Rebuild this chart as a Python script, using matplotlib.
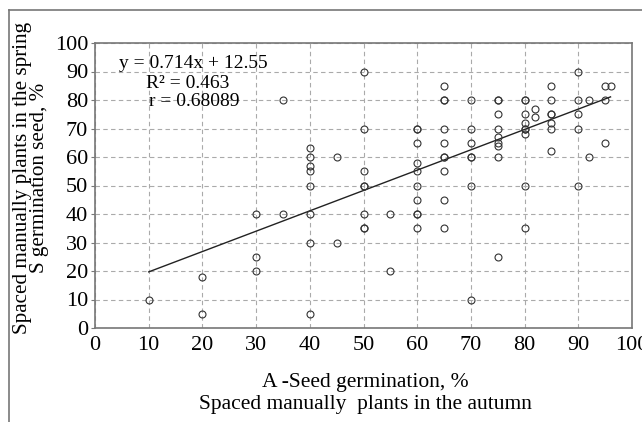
import numpy as np
import matplotlib
matplotlib.use('Agg')
import matplotlib.pyplot as plt
from matplotlib.lines import Line2D

plt.rcParams['font.family'] = ['Liberation Serif', 'DejaVu Serif']

# autumn germination (x) -> list of spring germination values (y)
autumn = [10, 20, 30, 35, 40, 45, 50, 55, 60, 65, 70, 75, 80, 82, 85, 90, 92, 95, 96]
spring = [
    [10],
    [18, 5],
    [40, 25, 20],
    [80, 40],
    [63, 60, 57, 55, 50, 40, 30, 5],
    [60, 30],
    [90, 70, 55, 50, 50, 40, 35, 35],
    [40, 20],
    [70, 70, 65, 58, 55, 50, 45, 40, 40, 35],
    [85, 80, 80, 70, 65, 60, 60, 55, 45, 35],
    [80, 70, 65, 60, 60, 50, 10],
    [80, 80, 75, 70, 67, 65, 64, 60, 25],
    [80, 80, 75, 72, 70, 70, 68, 50, 35],
    [77, 74],
    [85, 80, 75, 75, 72, 70, 62],
    [90, 80, 75, 70, 50],
    [80, 60],
    [85, 80, 65],
    [85],
]
slope = 0.714
intercept = 12.55
eq_lines = ['y = 0.714x + 12.55', 'R² = 0.463', 'r = 0.68089']

xs = []
ys = []
for a, vals in zip(autumn, spring):
    for v in vals:
        xs.append(a)
        ys.append(v)
xs = np.array(xs)
ys = np.array(ys)

W, H = 642, 422
fig = plt.figure(figsize=(W / 100, H / 100), dpi=100)
ax = fig.add_axes([95 / W, 1 - 328 / H, 537 / W, 285 / H])

ax.plot(xs, ys, 'o', ms=5, mfc='none', mec='#333333', mew=0.8, zorder=3)
lx = np.array([xs.min(), xs.max()])
ax.plot(lx, slope * lx + intercept, '-', color='#222222', lw=1.0, zorder=2)

ax.set_xlim(0, 100)
ax.set_ylim(0, 100)
ax.set_xticks(range(0, 101, 10))
ax.set_yticks(range(0, 101, 10))
ax.grid(True, ls=(0, (4, 3)), color='#aaaaaa', lw=0.8)
ax.set_axisbelow(True)
for s in ax.spines.values():
    s.set_color('#777777')
    s.set_linewidth(1.2)
ax.tick_params(axis='x', length=0, pad=6, labelsize=16)
ax.tick_params(axis='y', length=3, color='#777777', pad=2, labelsize=16)

# equation text
pos = [(119, 63), (146, 84), (149, 102)]
for (px, py), t in zip(pos, eq_lines):
    ax.text((px - 95) / 537, (328 - py) / 285, t, transform=ax.transAxes,
            ha='left', va='center', fontsize=14)

# axis titles
fig.text(31 / W, 1 - 178 / H, 'Spaced manually plants in the spring\nS germination seed, %',
         rotation=90, ha='center', va='center', multialignment='center',
         fontsize=15.2, linespacing=0.8)
fig.text(365 / W, 1 - 383 / H, 'A -Seed germination, %', ha='center', va='center', fontsize=15.5)
fig.text(365 / W, 1 - 405 / H, 'Spaced manually  plants in the autumn', ha='center', va='center', fontsize=15.5)

# outer frame
fig.add_artist(Line2D([9 / W, 9 / W], [0, 1 - 10 / H], color='#777777', lw=1.2, transform=fig.transFigure))
fig.add_artist(Line2D([9 / W, 1], [1 - 10 / H, 1 - 10 / H], color='#777777', lw=1.2, transform=fig.transFigure))

fig.savefig('out.png', dpi=100)
